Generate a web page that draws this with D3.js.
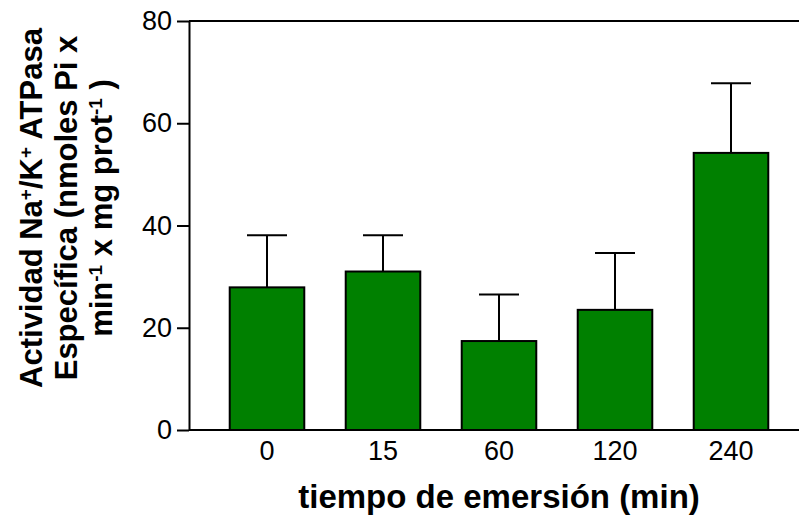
<!DOCTYPE html>
<html>
<head>
<meta charset="utf-8">
<script src="https://cdn.jsdelivr.net/npm/d3@7"></script>
<style>
  html, body { margin: 0; padding: 0; background: #fff; }
  svg { display: block; font-family: Arial, "Liberation Sans", Helvetica, sans-serif; }
</style>
</head>
<body>
<svg id="chart" width="799" height="520"></svg>
<script>
// Emersion time groups (min)
const categories = ["0", "15", "60", "120", "240"];
// Mean specific Na+/K+ ATPase activity (nmoles Pi x min-1 x mg prot-1)
const means = [27.9, 31.0, 17.4, 23.5, 54.2];
// Error (upper bar length)
const errors = [10.2, 7.1, 9.1, 11.1, 13.6];
const yTicks = [0, 20, 40, 60, 80];

(function () {
  const svg = d3.select("#chart");
  const W = 799;
  const plotLeft = 189, plotTop = 21, plotBottom = 430;

  const y = d3.scaleLinear().domain([0, 80]).range([plotBottom, plotTop]);
  const x = d3.scaleBand().domain(categories).range([209, 789])
    .paddingInner(0.34).paddingOuter(0.17);

  const data = categories.map((c, i) => ({ c, m: means[i], e: errors[i] }));

  // Error bars (upper only)
  const capHalf = 20;
  const eb = svg.append("g").attr("stroke", "#000").attr("stroke-width", 2);
  eb.selectAll("line.v").data(data).join("line").attr("class", "v")
    .attr("x1", d => x(d.c) + x.bandwidth() / 2)
    .attr("x2", d => x(d.c) + x.bandwidth() / 2)
    .attr("y1", d => y(d.m))
    .attr("y2", d => y(d.m + d.e));
  eb.selectAll("line.cap").data(data).join("line").attr("class", "cap")
    .attr("x1", d => x(d.c) + x.bandwidth() / 2 - capHalf)
    .attr("x2", d => x(d.c) + x.bandwidth() / 2 + capHalf)
    .attr("y1", d => y(d.m + d.e))
    .attr("y2", d => y(d.m + d.e));

  // Bars
  svg.append("g").selectAll("rect").data(data).join("rect")
    .attr("x", d => x(d.c) + 1)
    .attr("width", x.bandwidth() - 2)
    .attr("y", d => y(d.m))
    .attr("height", d => y(0) - y(d.m))
    .attr("fill", "#008000")
    .attr("stroke", "#000")
    .attr("stroke-width", 2);

  // Y axis
  const yAxis = svg.append("g").attr("transform", `translate(${plotLeft},0)`)
    .call(d3.axisLeft(y).tickValues(yTicks).tickSize(12).tickSizeOuter(0).tickPadding(5));
  yAxis.select(".domain").attr("stroke-width", 2);
  yAxis.selectAll(".tick line").attr("stroke-width", 2);
  yAxis.selectAll("text").attr("font-size", 27).attr("fill", "#000")
    .attr("font-family", "Arial, 'Liberation Sans', sans-serif");

  // Frame: top line and baseline
  svg.append("line").attr("x1", plotLeft).attr("x2", W).attr("y1", y(80)).attr("y2", y(80))
    .attr("stroke", "#000").attr("stroke-width", 2);
  svg.append("line").attr("x1", plotLeft).attr("x2", W).attr("y1", y(0)).attr("y2", y(0))
    .attr("stroke", "#000").attr("stroke-width", 2);

  // X axis labels
  const xAxis = svg.append("g").attr("transform", `translate(0,${plotBottom})`)
    .call(d3.axisBottom(x).tickSize(0).tickPadding(11));
  xAxis.select(".domain").remove();
  xAxis.selectAll("text").attr("font-size", 27).attr("fill", "#000")
    .attr("font-family", "Arial, 'Liberation Sans', sans-serif");

  // X axis title
  svg.append("text")
    .attr("x", (x.range()[0] + x.range()[1]) / 2)
    .attr("y", 508)
    .attr("text-anchor", "middle")
    .attr("font-size", 33).attr("font-weight", "bold")
    .text("tiempo de emersión (min)");

  // Y axis title (three lines, rotated)
  const yt = svg.append("g").attr("transform", "translate(0,208) rotate(-90)")
    .attr("font-size", 31).attr("font-weight", "bold").attr("text-anchor", "middle");
  const lines = [
    [["Actividad Na", 0], ["+", 1], ["/K", 0], ["+", 1], [" ATPasa", 0]],
    [["Específica (nmoles Pi x", 0]],
    [["min", 0], ["-1", 1], [" x mg prot", 0], ["-1", 1], [" )", 0]]
  ];
  const baselines = [42, 77, 112];
  lines.forEach((parts, li) => {
    const t = yt.append("text").attr("x", 0).attr("y", baselines[li]);
    parts.forEach(([s, sup]) => {
      const ts = t.append("tspan").text(s);
      if (sup) ts.attr("font-size", 19).attr("baseline-shift", "super");
    });
  });
})();
</script>
</body>
</html>
